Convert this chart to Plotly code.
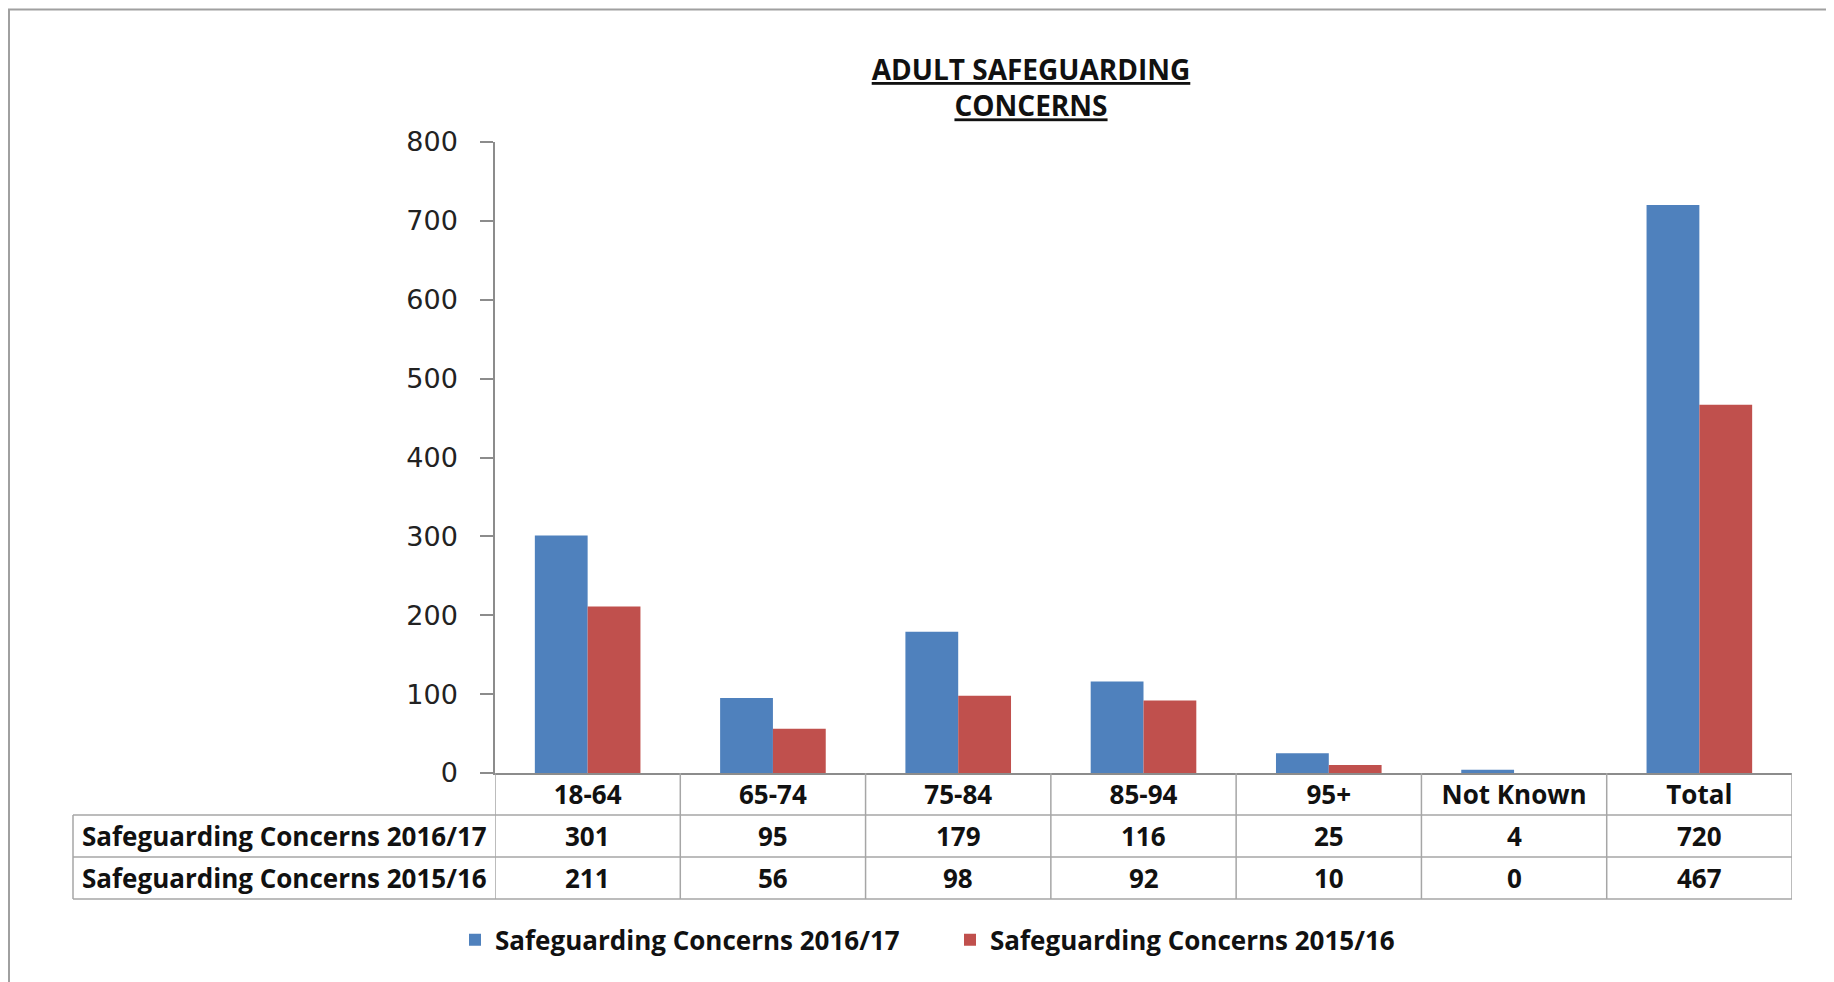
import plotly.graph_objects as go

categories = ["18-64", "65-74", "75-84", "85-94", "95+", "Not Known", "Total"]
concerns_2016_17 = [301, 95, 179, 116, 25, 4, 720]
concerns_2015_16 = [211, 56, 98, 92, 10, 0, 467]
series_names = ["Safeguarding Concerns 2016/17", "Safeguarding Concerns 2015/16"]
series_colors = ["#4F81BD", "#C0504D"]
y_ticks = [0, 100, 200, 300, 400, 500, 600, 700, 800]

# page has an 8px body margin, so the figure is drawn 8px smaller and offset
OFF = 8
W, H = 1834 - OFF, 982 - OFF
PLOT_LEFT, PLOT_RIGHT, PLOT_TOP, PLOT_BOTTOM = 495, 1792, 141.5, 773  # page coords
L = PLOT_LEFT - OFF
T = PLOT_TOP - OFF
R = W - (PLOT_RIGHT - OFF)
B = H - (PLOT_BOTTOM - OFF)
PW = PLOT_RIGHT - PLOT_LEFT
PH = PLOT_BOTTOM - PLOT_TOP


def px_x(p):
    return (p - PLOT_LEFT) / PW


def px_y(p):
    return (PLOT_BOTTOM - p) / PH


TFONT = dict(family="Open Sans", size=26, color="#111111", weight="bold")
GRID = "#A6A6A6"

fig = go.Figure()
for name, vals, col in zip(series_names, [concerns_2016_17, concerns_2015_16], series_colors):
    fig.add_trace(go.Bar(x=categories, y=vals, name=name, marker=dict(color=col, line=dict(width=0))))

shapes = []
for py in [815, 857, 899]:
    shapes.append(dict(type="line", xref="paper", yref="paper", x0=px_x(73), x1=1, y0=px_y(py), y1=px_y(py),
                       line=dict(color=GRID, width=1.5)))
shapes.append(dict(type="line", xref="paper", yref="paper", x0=px_x(73), x1=px_x(73), y0=px_y(815), y1=px_y(899),
                   line=dict(color=GRID, width=1.5)))
for i in range(len(categories) + 1):
    shapes.append(dict(type="line", xref="x", yref="paper", x0=i - 0.5, x1=i - 0.5, y0=0, y1=px_y(899),
                       line=dict(color=GRID, width=1.5)))
shapes.append(dict(type="rect", xref="paper", yref="paper", x0=px_x(9), x1=px_x(1832), y0=px_y(9), y1=px_y(1000),
                   line=dict(color="#A0A0A0", width=2)))

annotations = []
for row_i, (name, vals) in enumerate(zip(series_names, [concerns_2016_17, concerns_2015_16])):
    yc = px_y(836 + row_i * 42)
    annotations.append(dict(text=name, xref="paper", yref="paper", x=px_x(80), y=yc, xanchor="left",
                            yanchor="middle", showarrow=False, font=TFONT))
    for c, v in zip(categories, vals):
        annotations.append(dict(text=str(v), xref="x", yref="paper", x=c, y=yc, xanchor="center",
                                yanchor="middle", showarrow=False, font=TFONT))

fig.update_layout(
    width=W, height=H,
    margin=dict(l=L, r=R, t=T, b=B, pad=0),
    paper_bgcolor="white", plot_bgcolor="white",
    barmode="group", bargap=0.43, bargroupgap=0,
    title=dict(text="ADULT SAFEGUARDING<br>CONCERNS", x=(1031 - OFF) / W, xanchor="center",
               y=1 - 72 / H, yanchor="middle", yref="container",
               font=dict(family="Open Sans", size=28, color="#111111", weight="bold", lineposition="under")),
    xaxis=dict(type="category", range=[-0.5, 6.5], showline=True, linecolor="#8C8C8C", linewidth=1.5,
               ticks="", tickfont=TFONT, showgrid=False, zeroline=False, ticklabelstandoff=-2),
    yaxis=dict(range=[0, 800], tickvals=y_ticks, showline=True, linecolor="#8C8C8C", linewidth=1.5,
               ticks="outside", ticklen=13, tickcolor="#8C8C8C", tickwidth=1.5,
               tickfont=dict(family="DejaVu Sans", size=27, color="#222222"),
               showgrid=False, zeroline=False, ticklabelstandoff=17),
    legend=dict(orientation="h", x=px_x(455), y=px_y(940), xanchor="left", yanchor="middle",
                font=TFONT, entrywidth=450, entrywidthmode="pixels", bgcolor="rgba(0,0,0,0)"),
    shapes=shapes,
    annotations=annotations,
)

fig.write_html("out.html")
